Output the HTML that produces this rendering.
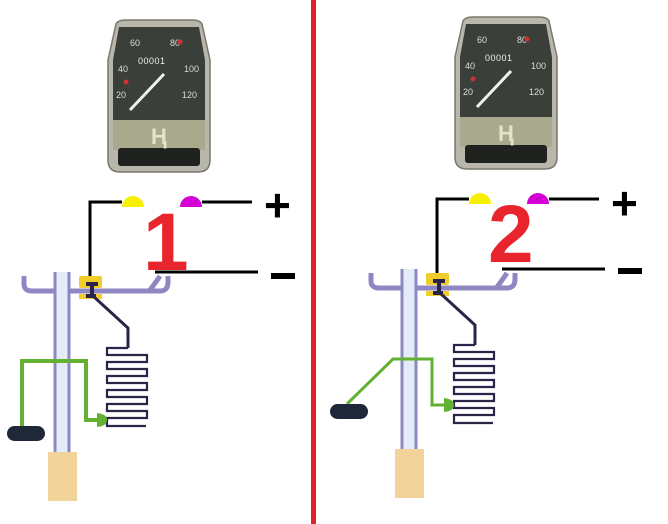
<!DOCTYPE html>
<html><head><meta charset="utf-8"><style>
html,body{margin:0;padding:0;background:#fff;width:668px;height:524px;overflow:hidden}
svg{display:block}
</style></head><body>
<svg width="668" height="524" viewBox="0 0 668 524" xmlns="http://www.w3.org/2000/svg" font-family="Liberation Sans, sans-serif">
<defs>
<g id="sp">
  <path d="M8,4 Q10,0 18,0 L84,0 Q92,0 94,4 L102,40 L102,140 Q102,152 90,152 L12,152 Q0,152 0,140 L0,40 Z" fill="#b9b6ac" stroke="#7a776e" stroke-width="1.5"/>
  <path d="M11,7 L91,7 L97,40 L97,100 L5,100 L5,40 Z" fill="#3a3f3a"/>
  <rect x="5" y="100" width="92" height="30" fill="#a9a98d"/>
  <rect x="10" y="128" width="82" height="18" rx="3" fill="#1f221f"/>
  <text x="22" y="26" font-size="9" fill="#ddd">60</text>
  <text x="62" y="26" font-size="9" fill="#ddd">80</text>
  <text x="10" y="52" font-size="9" fill="#ddd">40</text>
  <text x="76" y="52" font-size="9" fill="#ddd">100</text>
  <text x="8" y="78" font-size="9" fill="#ddd">20</text>
  <text x="74" y="78" font-size="9" fill="#ddd">120</text>
  <text x="30" y="44" font-size="9" fill="#eee" letter-spacing="0.5">00001</text>
  <line x1="22" y1="90" x2="56" y2="54" stroke="#f2f2ea" stroke-width="3"/>
  <circle cx="18" cy="62" r="2.5" fill="#c33"/>
  <circle cx="72" cy="22" r="2.5" fill="#c33"/>
  <text x="43" y="124" font-size="22" fill="#e6e4c8" font-weight="bold">Ⱨ</text>
</g>
<g id="panel">
  <use href="#sp" x="108" y="20"/>
  <path d="M122,207 A11,11 0 0 1 144,207 Z" fill="#f6f000"/>
  <path d="M180,207 A11,11 0 0 1 202,207 Z" fill="#d400d6"/>
  <polyline points="122,202 90,202 90,282" fill="none" stroke="#000" stroke-width="3"/>
  <line x1="202" y1="202" x2="252" y2="202" stroke="#000" stroke-width="3"/>
  <line x1="155" y1="272" x2="258" y2="272" stroke="#000" stroke-width="3"/>
  <path d="M24,276 L24,284 Q24,291 32,291 L160,291 Q168,291 168,282 L168,276 M150,290 Q156,282 160,276" fill="none" stroke="#8f87c2" stroke-width="5"/>
  <rect x="55" y="272" width="14" height="180" fill="#e4ecfa"/>
  <line x1="55" y1="272" x2="55" y2="452" stroke="#8f87c2" stroke-width="3"/>
  <line x1="69" y1="272" x2="69" y2="452" stroke="#8f87c2" stroke-width="3"/>
  <rect x="48" y="452" width="29" height="49" fill="#f2d49a"/>
  <rect x="79" y="276" width="23" height="12" rx="2" fill="#f1cd2c"/>
  <rect x="79" y="294" width="23" height="5" fill="#f1cd2c"/>
  <path d="M86,284 L98,284 M92,284 L92,296 M86,296 L96,296" stroke="#2a2548" stroke-width="4" fill="none"/>
  <polyline points="93,296 128,328 128,348" fill="none" stroke="#2a2548" stroke-width="3"/>
  <path d="M128,348 L107,348 L107,355 L147,355 L147,362 L107,362 L107,369 L147,369 L147,376 L107,376 L107,383 L147,383 L147,390 L107,390 L107,397 L147,397 L147,404 L107,404 L107,411 L147,411 L147,418 L107,418 L107,426 L146,426" fill="none" stroke="#2a2548" stroke-width="2.2"/>
</g>
</defs>
<use href="#panel"/>
<use href="#panel" x="347" y="-3"/>
<!-- panel 1 extras -->
<text x="143" y="270" font-size="82" font-weight="bold" fill="#e8242d">1</text>
<text x="264" y="221" font-size="46" font-weight="bold" fill="#000">+</text>
<rect x="271" y="273" width="24" height="6" fill="#000"/>
<polyline points="22,427 22,361 86,361 86,420 98,420" fill="none" stroke="#63b133" stroke-width="4"/>
<path d="M97,413 Q107,414 107,420 Q107,426 97,427 Z" fill="#63b133"/>
<rect x="7" y="426" width="38" height="15" rx="7.5" fill="#1f2838"/>
<!-- panel 2 extras -->
<text x="488" y="262" font-size="82" font-weight="bold" fill="#e8242d">2</text>
<text x="611" y="219" font-size="46" font-weight="bold" fill="#000">+</text>
<rect x="618" y="268" width="24" height="6" fill="#000"/>
<polyline points="347,404 393,359 432,359 432,405 446,405" fill="none" stroke="#63b133" stroke-width="3"/>
<path d="M444,398 Q454,399 454,405 Q454,411 444,412 Z" fill="#63b133"/>
<rect x="330" y="404" width="38" height="15" rx="7.5" fill="#1f2838"/>
<rect x="311" y="0" width="5" height="524" fill="#e0232b"/>
</svg>
</body></html>
